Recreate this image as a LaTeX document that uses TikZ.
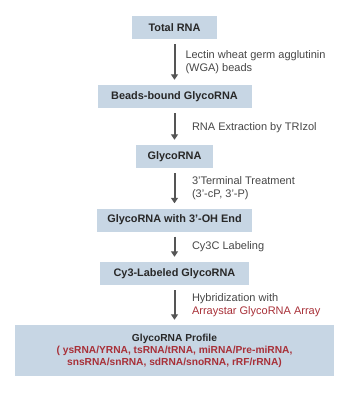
\documentclass[tikz,border=0pt]{standalone}
\usepackage{fontspec}
\setmainfont{Liberation Sans}
\usepackage{tikz}
\usetikzlibrary{arrows.meta,positioning}
\definecolor{BoxBlue}{RGB}{199,214,228}
\definecolor{InkGray}{RGB}{40,40,40}
\definecolor{LabelGray}{RGB}{70,70,70}
\definecolor{ArrowGray}{RGB}{85,85,85}
\definecolor{ArrayRed}{RGB}{168,48,56}

\begin{document}
\begin{tikzpicture}[x=1pt,y=-1pt,
  stepbox/.style={fill=BoxBlue,minimum height=23pt,inner sep=0pt,
    text=InkGray,font=\fontsize{10.9}{12}\selectfont\bfseries},
  flow/.style={draw=ArrowGray,line width=2pt,
    -{Triangle[width=7pt,length=5.5pt]},shorten <=5pt,shorten >=5pt},
  steplabel/.style={inner sep=0pt,align=left,text=LabelGray,
    font=\fontsize{11}{13.5}\selectfont}]
\useasboundingbox (0,0) rectangle (350,394);
% process boxes
\node[stepbox,minimum width=85pt] (total) at (174.5,27.5) {Total RNA};
\node[stepbox,minimum width=154pt] (beads) at (174.5,96.5) {Beads-bound GlycoRNA};
\node[stepbox,minimum width=77pt] (glyco) at (174.5,156.5) {GlycoRNA};
\node[stepbox,minimum width=155pt] (ohend) at (174.5,220) {GlycoRNA with 3'-OH End};
\node[stepbox,minimum width=149pt] (cythree) at (174.5,273.5) {Cy3-Labeled GlycoRNA};
\node[stepbox,minimum width=319pt,minimum height=51pt,
  font=\fontsize{10.2}{12}\selectfont\bfseries,align=center] (profile) at (174.5,350.5)
  {GlycoRNA Profile\\
   \textcolor{ArrayRed}{( ysRNA/YRNA, tsRNA/tRNA, miRNA/Pre-miRNA,}\\
   \textcolor{ArrayRed}{snsRNA/snRNA, sdRNA/snoRNA, rRF/rRNA)}};
% arrows with treatments
\draw[flow] (total) -- (beads)
  node[midway,steplabel,right=10pt] {Lectin wheat germ agglutinin\\(WGA) beads};
\draw[flow] (beads) -- (glyco)
  node[midway,steplabel,right=16.5pt,yshift=-1.5pt] {RNA Extraction by TRIzol};
\draw[flow] (glyco) -- (ohend)
  node[midway,steplabel,right=16.5pt] {3'Terminal Treatment\\(3'-cP, 3'-P)};
\draw[flow] (ohend) -- (cythree)
  node[midway,steplabel,right=16.5pt] {Cy3C Labeling};
\draw[flow] (cythree) -- (profile)
  node[midway,steplabel,right=16.5pt] {Hybridization with\\
    \textcolor{ArrayRed}{Arraystar GlycoRNA Array}};
\end{tikzpicture}
\end{document}
